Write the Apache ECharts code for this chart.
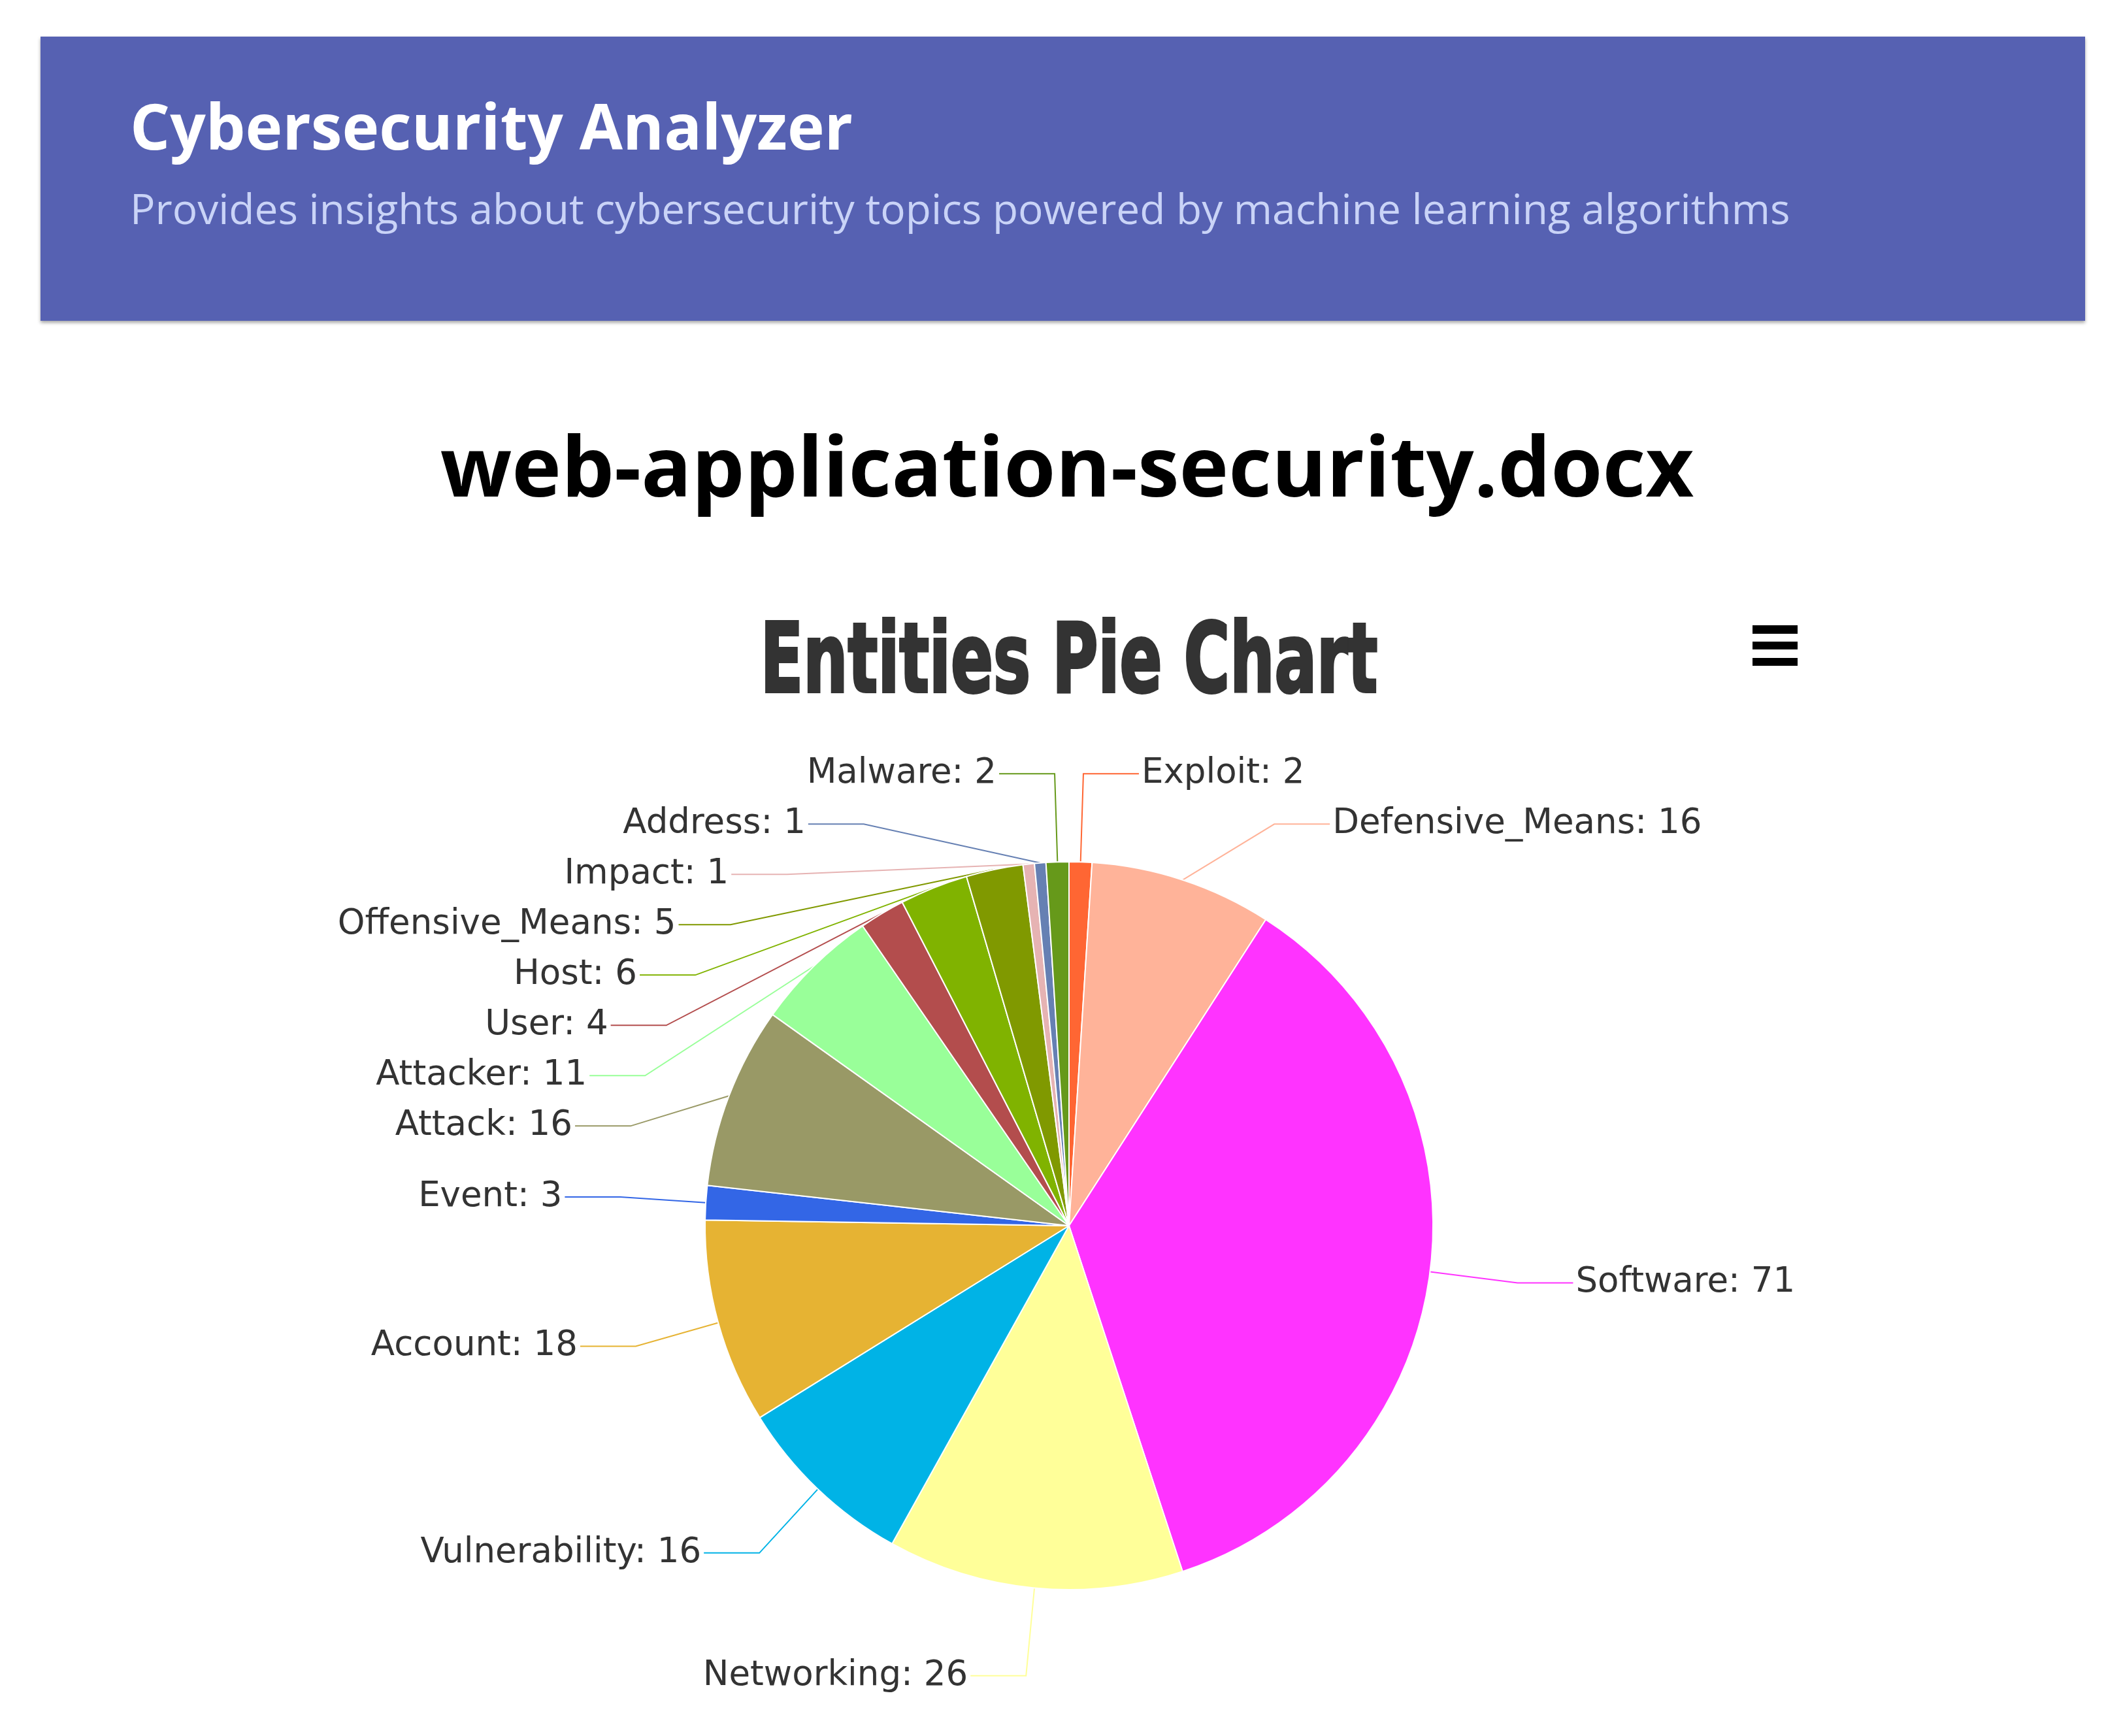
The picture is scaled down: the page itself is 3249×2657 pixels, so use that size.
<!DOCTYPE html>
<html>
<head>
<meta charset="utf-8">
<title>Cybersecurity Analyzer</title>
<script src="https://cdn.jsdelivr.net/npm/echarts@6/dist/echarts.min.js"></script>
<style>
  html, body { margin: 0; padding: 0; background: #fff; overflow: hidden; }
  body { width: 3249px; height: 2657px; position: relative; font-family: "Open Sans", "Noto Sans", sans-serif; }
  #header {
    position: absolute; left: 62px; top: 56px; width: 3129px; height: 435px;
    background: #5661b2; box-shadow: 0 3px 5px rgba(0,0,0,0.35);
  }
  #appTitle {
    position: absolute; left: 137px; top: 88px; margin: 0;
    font-size: 96px; line-height: 96px; font-weight: 700; color: #fff; white-space: nowrap;
  }
  #appSub {
    position: absolute; left: 137px; top: 231px; margin: 0;
    font-size: 64px; line-height: 64px; font-weight: 400; color: #c9d3f7; white-space: nowrap;
  }
  #docName {
    position: absolute; left: 17px; top: 647px; width: 3232px; margin: 0;
    text-align: center; font-size: 128px; line-height: 128px; font-weight: 700; color: #000;
  }
  #pie1 { position: absolute; left: 23px; top: 880px; width: 3226px; height: 1777px; }
</style>
</head>
<body>
<div id="header">
  <h2 id="appTitle">Cybersecurity Analyzer</h2>
  <p id="appSub">Provides insights about cybersecurity topics powered by machine learning algorithms</p>
</div>
<h1 id="docName">web-application-security.docx</h1>
<div id="pie1"></div>
<script>
// entity counts, clockwise from 12 o'clock
var entityNames = ['Exploit', 'Defensive_Means', 'Software', 'Networking', 'Vulnerability',
  'Account', 'Event', 'Attack', 'Attacker', 'User', 'Host', 'Offensive_Means',
  'Impact', 'Address', 'Malware'];
var entityCounts = [2, 16, 71, 26, 16, 18, 3, 16, 11, 4, 6, 5, 1, 1, 2];

var colors = ['#FF6633', '#FFB399', '#FF33FF', '#FFFF99', '#00B3E6', '#E6B333', '#3366E6',
  '#999966', '#99FF99', '#B34D4D', '#80B300', '#809900', '#E6B3B3', '#6680B3', '#66991A'];

window.onload = function() {
	var dataShow = [];
	for (var i = 0; i < entityNames.length; i++) {
		dataShow.push({ name: entityNames[i], value: entityCounts[i] });
	}
	pieShow('pie1', dataShow);
};

function pieShow(obj, dataShow) {
	var myChart = echarts.init(document.getElementById(obj));
	var option = {
		animation: false,
		color: colors,
		// condensed heavy title, squeezed horizontally
		graphic: [{
			type: 'text',
			x: 1613,
			y: 67,
			scaleX: 0.72,
			style: {
				text: 'Entities Pie Chart',
				fill: '#333333',
				stroke: '#333333',
				lineWidth: 4,
				fontFamily: '"DejaVu Sans Condensed", "DejaVu Sans", sans-serif',
				fontSize: 148,
				fontWeight: 'bold',
				textAlign: 'center',
				textVerticalAlign: 'top'
			}
		}],
		toolbox: {
			left: 2659,
			top: 77,
			padding: 0,
			itemSize: 69,
			iconStyle: { color: '#000', borderWidth: 0 },
			feature: {
				myMenu: {
					show: true,
					title: '',
					icon: 'path://M0,0H69V13H0Z M0,25H69V37H0Z M0,50H69V62H0Z',
					onclick: function() {}
				}
			}
		},
		series: [{
			type: 'pie',
			center: ['50%', 996],
			radius: 557,
			startAngle: 90,
			clockwise: true,
			avoidLabelOverlap: true,
			itemStyle: { borderColor: '#ffffff', borderWidth: 2 },
			label: {
				show: true,
				position: 'outside',
				formatter: '{b}: {c}',
				color: '#333333',
				fontFamily: '"DejaVu Sans", sans-serif',
				fontSize: 53,
				lineHeight: 75,
				distanceToLabelLine: 4
			},
			labelLine: {
				show: true,
				length: 135,
				length2: 85,
				smooth: false,
				lineStyle: { width: 2 }
			},
			emphasis: { scale: false },
			data: dataShow
		}]
	};
	myChart.setOption(option);
}
</script>
</body>
</html>
